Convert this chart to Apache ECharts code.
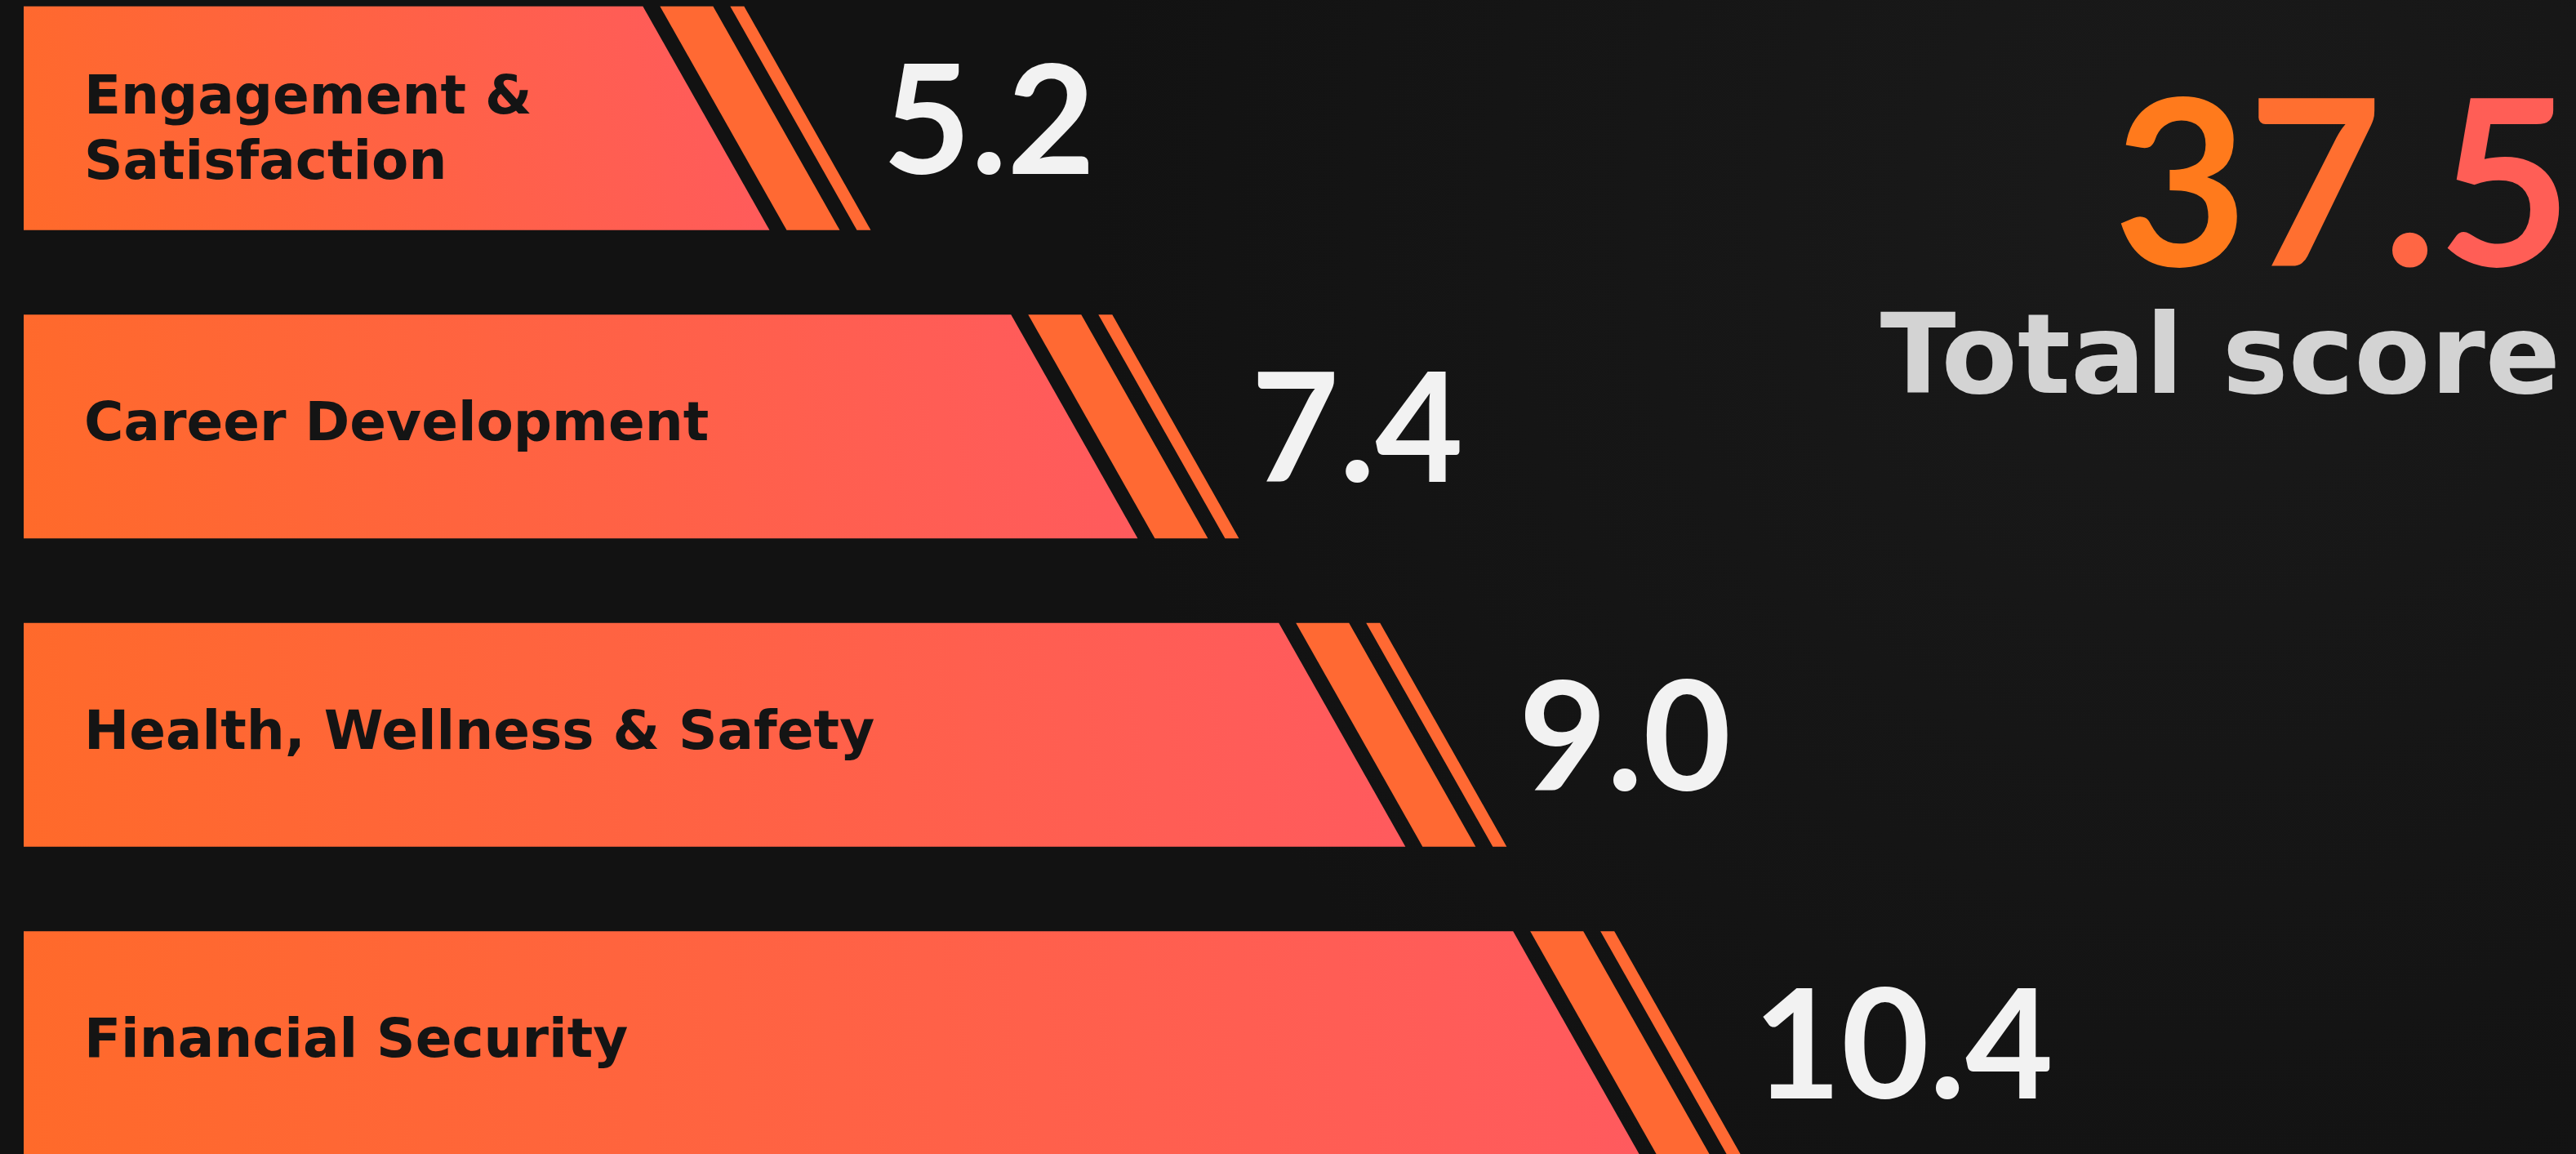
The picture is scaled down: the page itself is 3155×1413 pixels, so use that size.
<!DOCTYPE html>
<html>
<head>
<meta charset="utf-8">
<title>Total score</title>
<script src="https://cdn.jsdelivr.net/npm/echarts@6/dist/echarts.min.js"></script>
<style>
  html, body { margin: 0; padding: 0; background: #131313; overflow: hidden; }
  /* 图表比窗口略高，上下各超出一点，让首尾条形贴边 */
  #chart { position: absolute; left: 0; top: -44px; width: 3155px; height: 1510px; }
</style>
</head>
<body>
<div id="chart"></div>
<script>
// 分类（从上到下）
const categories = ['Engagement &\nSatisfaction', 'Career Development', 'Health, Wellness & Safety', 'Financial Security']
// 各项得分
const scores = [5.2, 7.4, 9.0, 10.4]
// 总分
const totalScore = 37.5
const totalLabel = 'Total score'

const NUM_FONT = 'Lato, "Noto Sans", sans-serif'
const TEXT_FONT = '"DejaVu Sans", "Noto Sans", sans-serif'
const AXIS_MIN = 1.5
const AXIS_MAX = 15
const OFFSET_Y = 44

const chart = echarts.init(document.getElementById('chart'))

const barFill = new echarts.graphic.LinearGradient(0, 1, 1, 0, [
  { offset: 0, color: '#ff6a2a' },
  { offset: 1, color: '#ff5a5f' }
])
const stripeColor = '#ff6933'
// 总分数字的渐变（canvas 文字不支持渐变，按字符取色）
const totalColors = ['#ff7a1c', '#ff6f30', '#ff6644', '#ff5e56']

// 斜切条形 + 两条斜纹 + 数值
const renderBar = (params, api) => {
  const end = api.coord([api.value(0), api.value(1)])
  const start = api.coord([AXIS_MIN, api.value(1)])
  const h = api.size([0, 1])[1] * 0.726
  const top = end[1] - h / 2
  const bot = end[1] + h / 2
  const slant = h * 0.566
  const x = end[0]

  const stripe = (a, b) => ({
    type: 'polygon',
    shape: { points: [[x + a, top], [x + b, top], [x + b + slant, bot], [x + a + slant, bot]] },
    style: { fill: stripeColor }
  })

  return {
    type: 'group',
    children: [
      {
        type: 'polygon',
        shape: { points: [[start[0], top], [x, top], [x + slant, bot], [start[0], bot]] },
        style: { fill: barFill }
      },
      stripe(21, 86),
      stripe(107, 124),
      {
        type: 'text',
        style: {
          text: api.value(0).toFixed(1),
          x: x + 294,
          y: end[1] + 8,
          align: 'left',
          verticalAlign: 'middle',
          fill: '#f2f2f2',
          fontFamily: NUM_FONT,
          fontWeight: 'bold',
          fontSize: 186
        }
      }
    ]
  }
}

const totalChars = totalScore.toFixed(1).split('')
const totalRich = {}
totalChars.forEach((ch, i) => {
  totalRich['c' + i] = {
    fill: totalColors[i % totalColors.length],
    fontFamily: NUM_FONT,
    fontWeight: 'bold',
    fontSize: 284
  }
})

const labelStyle = {
  color: '#141414',
  fontFamily: TEXT_FONT,
  fontWeight: 'bold',
  fontSize: 66,
  lineHeight: 80
}

const option = {
  backgroundColor: new echarts.graphic.RadialGradient(0.85, 0.2, 0.9, [
    { offset: 0, color: '#1a1a1a' },
    { offset: 1, color: '#121212' }
  ]),
  animation: false,
  grid: {
    left: 29,
    right: 359,
    top: 0,
    bottom: 0
  },
  xAxis: {
    type: 'value',
    min: AXIS_MIN,
    max: AXIS_MAX,
    show: false
  },
  yAxis: {
    type: 'category',
    data: categories,
    inverse: true,
    z: 10,
    axisLine: { show: false },
    axisTick: { show: false },
    splitLine: { show: false },
    axisLabel: {
      inside: true,
      interval: 0,
      margin: 74,
      ...labelStyle,
      // 两行的标签整体往下压一点
      formatter: (v) => {
        const lines = v.split('\n')
        if (lines.length < 2) return '{n|' + v + '}'
        return lines.map((l) => '{low|' + l + '}').join('\n')
      },
      rich: {
        n: { ...labelStyle },
        low: { ...labelStyle, padding: [34, 0, 0, 0] }
      }
    }
  },
  series: [
    {
      type: 'custom',
      clip: false,
      renderItem: renderBar,
      encode: { x: 0, y: 1 },
      data: scores.map((v, i) => [v, i])
    }
  ],
  graphic: [
    {
      type: 'text',
      x: 3150,
      y: 234 + OFFSET_Y,
      style: {
        text: totalChars.map((ch, i) => '{c' + i + '|' + ch + '}').join(''),
        rich: totalRich,
        align: 'right',
        verticalAlign: 'middle',
        fontFamily: NUM_FONT,
        fontWeight: 'bold',
        fontSize: 284
      }
    },
    {
      type: 'text',
      x: 3136,
      y: 446 + OFFSET_Y,
      style: {
        text: totalLabel,
        align: 'right',
        verticalAlign: 'middle',
        fontFamily: TEXT_FONT,
        fontWeight: 'bold',
        fontSize: 136,
        fill: '#d3d3d3'
      }
    }
  ]
}

chart.setOption(option)
window.addEventListener('resize', () => chart.resize())
</script>
</body>
</html>
